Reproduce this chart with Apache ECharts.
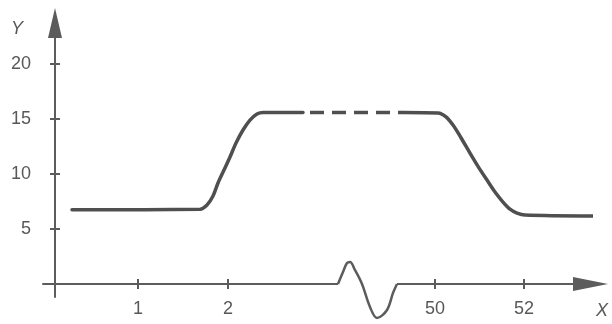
<!DOCTYPE html>
<html>
<head>
<meta charset="utf-8">
<script src="https://cdn.jsdelivr.net/npm/echarts@6/dist/echarts.min.js"></script>
<style>
  html, body { margin: 0; padding: 0; background: #fff; }
  #chart { width: 612px; height: 324px; }
</style>
</head>
<body>
<div id="chart"></div>
<script>
// Horizontal position along the (broken) X axis, and the labels shown at the ticks
const xTickPos = [8.3, 17.3, 38.0, 46.9];
const xTickLabels = ['1', '2', '50', '52'];
const yTickValues = [5, 10, 15, 20];

// Low level, rise to the plateau
const riseX = [1.7, 14.5, 15.2, 15.8, 16.3, 16.9, 17.5, 18.1, 18.8, 19.5, 20.2, 20.8, 24.8];
const riseY = [6.75, 6.8, 7.18, 8.0, 9.18, 10.36, 11.55, 12.82, 14.0, 14.9, 15.45, 15.6, 15.6];

// Omitted stretch of the plateau (dashed)
const gapX = [24.8, 34.8];
const gapY = [15.6, 15.6];

// End of the plateau, fall, and the final level
const fallX = [34.8, 38.3, 39.1, 39.8, 40.6, 41.5, 42.3, 43.2, 44.0, 44.8, 45.5, 46.2, 47.0, 53.8];
const fallY = [15.6, 15.55, 15.2, 14.45, 13.3, 11.9, 10.7, 9.45, 8.36, 7.45, 6.8, 6.45, 6.27, 6.18];

// Break mark drawn on the X axis
const breakX = [28.3, 28.8, 29.2, 29.5, 30.0, 30.7, 31.5, 32.2, 33.2, 33.8, 34.2];
const breakY = [0, 1.09, 1.91, 2.0, 1.27, 0, -2.09, -3.09, -2.36, -0.82, 0];

const ink = '#4f4f4f';
const axisInk = '#5c5c5c';
const textInk = '#585858';
const font = '"Liberation Sans", Arial, sans-serif';

const pairs = (xs, ys) => xs.map((x, i) => [x, ys[i]]);
const nearestLabel = (v) => {
  let best = 0;
  xTickPos.forEach((p, i) => { if (Math.abs(p - v) < Math.abs(xTickPos[best] - v)) best = i; });
  return xTickLabels[best];
};

const X_MIN = -1.2, X_MAX = 53.55;
const Y_MIN = -1.18, Y_MAX = 23.73;
const tickStyle = { color: axisInk, width: 2 };

const chart = echarts.init(document.getElementById('chart'), null, { renderer: 'canvas' });

chart.setOption({
  animation: false,
  backgroundColor: '#fff',
  grid: { left: 43, right: 21.5, top: 23, bottom: 27, containLabel: false, outerBoundsMode: 'none' },
  xAxis: [
    {
      type: 'value', min: X_MIN, max: X_MAX, position: 'bottom',
      axisLine: {
        onZero: true, onZeroAxisIndex: 0,
        symbol: ['none', 'triangle'], symbolSize: [14, 35],
        lineStyle: { color: axisInk, width: 2 }
      },
      axisTick: { show: true, customValues: xTickPos, length: 5, lineStyle: tickStyle },
      axisLabel: {
        show: true, customValues: xTickPos, formatter: nearestLabel,
        margin: 3, fontSize: 18, fontFamily: font, color: textInk
      },
      splitLine: { show: false }
    },
    {
      // upper half of the crossing ticks
      type: 'value', min: X_MIN, max: X_MAX, position: 'top',
      axisLine: { show: false, onZero: true, onZeroAxisIndex: 1 },
      axisTick: { show: true, inside: false, customValues: xTickPos, length: 5, lineStyle: tickStyle },
      axisLabel: { show: false },
      splitLine: { show: false }
    }
  ],
  yAxis: [
    {
      type: 'value', min: Y_MIN, max: Y_MAX, position: 'left',
      axisLine: {
        show: true, onZero: true, onZeroAxisIndex: 0,
        symbol: ['none', 'triangle'], symbolSize: [14, 30],
        lineStyle: { color: axisInk, width: 2 }
      },
      axisTick: { show: true, customValues: yTickValues, length: 5, lineStyle: tickStyle },
      axisLabel: {
        show: true, customValues: yTickValues,
        margin: 12, fontSize: 18, fontFamily: font, color: textInk
      },
      splitLine: { show: false }
    },
    {
      // right half of the crossing ticks
      type: 'value', min: Y_MIN, max: Y_MAX, position: 'right',
      axisLine: { show: false, onZero: true, onZeroAxisIndex: 1 },
      axisTick: { show: true, inside: false, customValues: yTickValues, length: 5, lineStyle: tickStyle },
      axisLabel: { show: false },
      splitLine: { show: false }
    }
  ],
  graphic: [
    { type: 'text', left: 11, top: 20, style: { text: 'Y', font: 'italic 18px ' + font, fill: textInk } },
    { type: 'text', left: 596, top: 302, style: { text: 'X', font: 'italic 18px ' + font, fill: textInk } }
  ],
  series: [
    {
      name: 'rise', type: 'line', data: pairs(riseX, riseY),
      smooth: 0.3, symbol: 'none', clip: false, z: 5,
      lineStyle: { color: ink, width: 3.5, cap: 'round' }
    },
    {
      name: 'gap', type: 'line', data: pairs(gapX, gapY),
      symbol: 'none', clip: false, z: 5,
      lineStyle: { color: ink, width: 3.5, type: [14, 8], dashOffset: 15 }
    },
    {
      name: 'fall', type: 'line', data: pairs(fallX, fallY),
      smooth: 0.3, symbol: 'none', clip: false, z: 5,
      lineStyle: { color: ink, width: 3.5, cap: 'round' }
    },
    {
      // clears the axis line where the break mark sits
      name: 'axisGap', type: 'line', data: [[breakX[0], 0], [breakX[breakX.length - 1], 0]],
      symbol: 'none', clip: false, z: 3, silent: true,
      lineStyle: { color: '#fff', width: 5 }
    },
    {
      name: 'break', type: 'line', data: pairs(breakX, breakY),
      smooth: 0.35, symbol: 'none', clip: false, z: 4,
      lineStyle: { color: axisInk, width: 2.5 }
    }
  ]
});
</script>
</body>
</html>
